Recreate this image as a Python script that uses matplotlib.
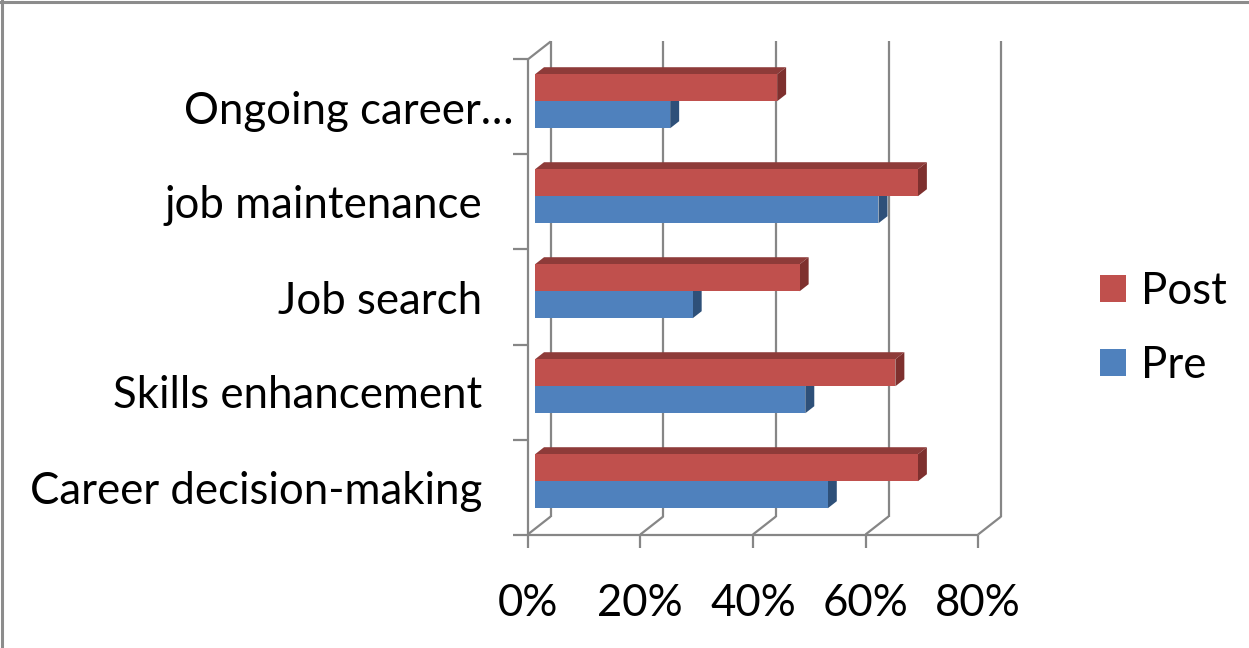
import matplotlib
matplotlib.use("Agg")
import matplotlib.pyplot as plt
from matplotlib.patches import Polygon, Rectangle
from matplotlib.lines import Line2D

# ---- data ----
categories = ["Career decision-making", "Skills enhancement", "Job search",
              "job maintenance", "Ongoing career…"]
pre = [52, 48, 28, 61, 24]
post = [68, 64, 47, 68, 43]
series_names = ["Post", "Pre"]
xticks = [0, 20, 40, 60, 80]
xtick_labels = ["0%", "20%", "40%", "60%", "80%"]

# ---- style ----
W, H = 1249, 648
FONT = "Lato"
FS = 31.5
GRID = "#868686"
RED, RED_TOP, RED_SIDE = "#C0504D", "#8E3B39", "#7E302E"
BLUE, BLUE_TOP, BLUE_SIDE = "#4F81BD", "#3A6293", "#2E5079"

fig = plt.figure(figsize=(W / 100, H / 100), dpi=100)
ax = fig.add_axes([0, 0, 1, 1])
# pixel mapping: x% -> 527.7 + 5.63*x ; category y -> 534.5 - 95*y
PXX0, SX = 527.7, 5.63
PXY0, SY = 534.5, 95.0
ax.set_xlim(-PXX0 / SX, (W - PXX0) / SX)
ax.set_ylim(-(H - PXY0) / SY, PXY0 / SY)
ax.axis("off")

DX, DY = 23 / SX, 18 / SY   # full depth offset in data units
ncat = len(categories)
xmax = xticks[-1]

lw = 1.6
def line(xs, ys, **kw):
    ax.add_line(Line2D(xs, ys, color=GRID, lw=lw, solid_capstyle="butt", **kw))

# back wall gridlines
for xt in xticks:
    line([xt + DX, xt + DX], [DY, ncat + DY])
# floor
line([0, xmax], [0, 0])
for xt in xticks:
    line([xt, xt + DX], [0, DY])
    line([xt, xt], [0, -13 / SY])
# left wall
line([0, 0], [0, ncat])
line([0, DX], [ncat, ncat + DY])
for i in range(ncat + 1):
    line([-15 / SX, 0], [i, i])

# bars
d0, d1 = 0.32, 0.71
bh = 27 / SY
def bar3d(y0, val, front, top, side):
    ox0, oy0 = d0 * DX, d0 * DY
    ox1, oy1 = d1 * DX, d1 * DY
    ax.barh(y0 + oy0, val, height=bh, left=ox0, align="edge", color=front,
            linewidth=0, zorder=3)
    # top face
    ax.add_patch(Polygon([(ox0, y0 + bh + oy0), (val + ox0, y0 + bh + oy0),
                          (val + ox1, y0 + bh + oy1), (ox1, y0 + bh + oy1)],
                         closed=True, facecolor=top, lw=0, zorder=2))
    # side face
    ax.add_patch(Polygon([(val + ox0, y0 + oy0), (val + ox1, y0 + oy1),
                          (val + ox1, y0 + bh + oy1), (val + ox0, y0 + bh + oy0)],
                         closed=True, facecolor=side, lw=0, zorder=2))

for i in range(ncat):
    c = i + 0.5
    bar3d(c - bh, pre[i], BLUE, BLUE_TOP, BLUE_SIDE)
for i in range(ncat):
    c = i + 0.5
    bar3d(c, post[i], RED, RED_TOP, RED_SIDE)

# category labels
label_right = [482, 482, 482, 482, 514]
for i, lab in enumerate(categories):
    ax.text((label_right[i] - PXX0) / SX, i + 0.5, lab, ha="right",
            va="center_baseline", fontsize=FS, family=FONT, color="black")

# x tick labels
for xt, lab in zip(xticks, xtick_labels):
    ax.text(xt, (PXY0 - 600) / SY, lab, ha="center", va="center_baseline",
            fontsize=FS, family=FONT, color="black")

# legend
leg_cols = [RED, BLUE]
leg_y = [288, 362]
for name, col, yc in zip(series_names, leg_cols, leg_y):
    fig.patches.append(Rectangle((1100 / W, 1 - (yc + 13.5) / H), 26 / W, 27 / H,
                                 transform=fig.transFigure, facecolor=col,
                                 edgecolor="none"))
    fig.text(1141 / W, 1 - yc / H, name, ha="left", va="center_baseline",
             fontsize=FS, family=FONT, color="black")

# outer border (top and left)
fig.lines.append(Line2D([0, 1], [1 - 1.5 / H, 1 - 1.5 / H], transform=fig.transFigure,
                        color="#8C8C8C", lw=2.2))
fig.lines.append(Line2D([1.5 / W, 1.5 / W], [0, 1], transform=fig.transFigure,
                        color="#8C8C8C", lw=2.2))

fig.savefig("out.png", dpi=100, facecolor="white")
